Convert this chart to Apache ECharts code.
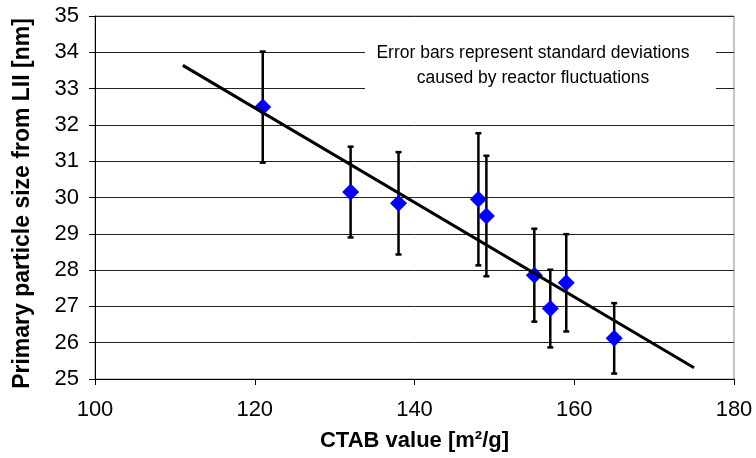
<!DOCTYPE html>
<html>
<head>
<meta charset="utf-8">
<script src="https://cdn.jsdelivr.net/npm/echarts@6/dist/echarts.min.js"></script>
<style>
html,body{margin:0;padding:0;background:#fff;}
#chart{width:756px;height:458px;}
</style>
</head>
<body>
<div id="chart"></div>
<script>
// Data
var ctab = [121, 132, 138, 148, 149, 155, 157, 159, 165];
var particleSize = [32.49, 30.15, 29.84, 29.95, 29.49, 27.86, 26.94, 27.65, 26.12];
var stdDev = [1.53, 1.25, 1.41, 1.82, 1.66, 1.28, 1.07, 1.34, 0.97];
var trendX = [111, 175];
var trendY = [33.64, 25.31];
var xTicks = [100, 120, 140, 160, 180];
var yTicks = [25, 26, 27, 28, 29, 30, 31, 32, 33, 34, 35];
var noteLines = ['Error bars represent standard deviations', 'caused by reactor fluctuations'];

var points = ctab.map(function (x, i) { return [x, particleSize[i]]; });
var errData = ctab.map(function (x, i) { return [x, particleSize[i] - stdDev[i], particleSize[i] + stdDev[i]]; });
var trendData = trendX.map(function (x, i) { return [x, trendY[i]]; });

var FONT = 'Liberation Sans, Arial, sans-serif';
var chart = echarts.init(document.getElementById('chart'), null, {renderer: 'canvas'});
chart.setOption({
  animation: false,
  backgroundColor: '#fff',
  grid: {left: 95, right: 22, top: 16, bottom: 79, show: true, borderColor: '#888', borderWidth: 1},
  xAxis: {
    type: 'value', min: xTicks[0], max: xTicks[xTicks.length - 1], interval: 20,
    name: 'CTAB value [m²/g]', nameLocation: 'middle', nameGap: 51,
    nameTextStyle: {fontFamily: FONT, fontSize: 22, fontWeight: 'bold', color: '#000'},
    axisLine: {show: true, onZero: false, lineStyle: {color: '#000', width: 1}},
    axisTick: {show: true, length: 6, lineStyle: {color: '#000'}},
    axisLabel: {fontFamily: FONT, fontSize: 22, color: '#000', margin: 20},
    splitLine: {show: false}
  },
  yAxis: {
    type: 'value', min: yTicks[0], max: yTicks[yTicks.length - 1], interval: 1,
    name: 'Primary particle size from LII [nm]', nameLocation: 'middle', nameGap: 61,
    nameTextStyle: {fontFamily: FONT, fontSize: 23, fontWeight: 'bold', color: '#000', padding: [0, 0, 0, -12]},
    axisLine: {show: true, onZero: false, lineStyle: {color: '#000', width: 1}},
    axisTick: {show: true, length: 6, lineStyle: {color: '#000'}},
    axisLabel: {fontFamily: FONT, fontSize: 22, color: '#000', margin: 16},
    splitLine: {show: true, lineStyle: {color: '#222', width: 1}}
  },
  graphic: [
    {type: 'rect', z: 100, shape: {x: 365, y: 37, width: 351, height: 62}, style: {fill: '#fff'}},
    {type: 'text', z: 101, x: 533, y: 53, style: {text: noteLines[0], font: '17.5px ' + FONT, fill: '#000', textAlign: 'center', textVerticalAlign: 'middle'}},
    {type: 'text', z: 101, x: 533, y: 78, style: {text: noteLines[1], font: '17.5px ' + FONT, fill: '#000', textAlign: 'center', textVerticalAlign: 'middle'}}
  ],
  series: [
    {
      type: 'custom', z: 3, data: errData,
      renderItem: function (params, api) {
        var lo = api.coord([api.value(0), api.value(1)]);
        var hi = api.coord([api.value(0), api.value(2)]);
        var cw = 3;
        var st = {stroke: '#000', lineWidth: 2.5};
        return {type: 'group', children: [
          {type: 'line', shape: {x1: lo[0], y1: lo[1], x2: hi[0], y2: hi[1]}, style: st},
          {type: 'line', shape: {x1: lo[0] - cw, y1: lo[1], x2: lo[0] + cw, y2: lo[1]}, style: st},
          {type: 'line', shape: {x1: hi[0] - cw, y1: hi[1], x2: hi[0] + cw, y2: hi[1]}, style: st}
        ]};
      }
    },
    {
      type: 'scatter', z: 4, data: points, symbol: 'diamond', symbolSize: 17,
      itemStyle: {color: '#0000ff', opacity: 1}
    },
    {
      type: 'line', z: 5, data: trendData, symbol: 'none',
      lineStyle: {color: '#000', width: 3}
    }
  ]
});
</script>
</body>
</html>
